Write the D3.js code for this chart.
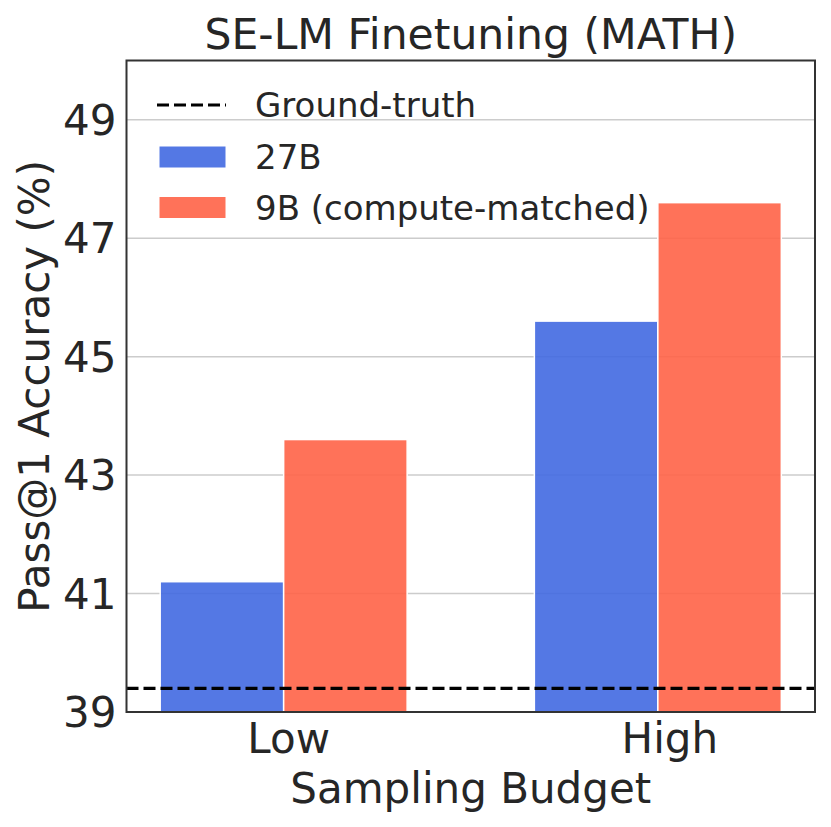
<!DOCTYPE html>
<html>
<head>
<meta charset="utf-8">
<script src="https://cdn.jsdelivr.net/npm/d3@7"></script>
<style>
  body { margin: 0; background: #fff; }
  text { font-family: "DejaVu Sans", sans-serif; fill: #262626; }
</style>
</head>
<body>
<svg id="chart" width="831" height="827"></svg>
<script>
// ---- data ----
const categories = ["Low", "High"];
const seriesNames = ["27B", "9B (compute-matched)"];
const values27B = [41.2, 45.6];
const values9B = [43.6, 47.6];
const groundTruth = 39.4;
const yTicks = [39, 41, 43, 45, 47, 49];
const colors = ["#4169e1", "#ff6347"];

(function () {
const svg = d3.select("#chart");
const pL = 126.5, pR = 815, pT = 60.5, pB = 712;
const labelShift = [5, 12];

const x = d3.scaleLinear().domain([-0.42, 1.42]).range([pL, pR]);
const y = d3.scaleLinear().domain([39, 50]).range([pB, pT]);
const barW = 0.33;

// gridlines
svg.append("g").selectAll("line").data(yTicks).join("line")
  .attr("x1", pL).attr("x2", pR)
  .attr("y1", d => y(d)).attr("y2", d => y(d))
  .attr("stroke", "#cccccc").attr("stroke-width", 1.5);

// bars
const seriesVals = [values27B, values9B];
seriesVals.forEach((vals, si) => {
  const off = si === 0 ? -barW / 2 : barW / 2;
  svg.append("g").selectAll("rect").data(vals).join("rect")
    .attr("x", (d, i) => x(i + off - barW / 2))
    .attr("width", x(barW) - x(0))
    .attr("y", d => y(d))
    .attr("height", d => y(39) - y(d))
    .attr("fill", colors[si]).attr("fill-opacity", 0.9)
    .attr("stroke", "#ffffff").attr("stroke-width", 1.5);
});

// ground truth line
svg.append("line")
  .attr("x1", pL).attr("x2", pR)
  .attr("y1", y(groundTruth)).attr("y2", y(groundTruth))
  .attr("stroke", "#000").attr("stroke-width", 3.2)
  .attr("stroke-dasharray", "12,5");

// frame
svg.append("rect")
  .attr("x", pL).attr("y", pT)
  .attr("width", pR - pL).attr("height", pB - pT)
  .attr("fill", "none").attr("stroke", "#333").attr("stroke-width", 2);

// y tick labels
svg.append("g").selectAll("text").data(yTicks).join("text")
  .attr("x", pL - 10).attr("y", d => y(d))
  .attr("dy", "0.36em").attr("text-anchor", "end")
  .attr("font-size", 42).text(d => d);

// x tick labels
svg.append("g").selectAll("text").data(categories).join("text")
  .attr("x", (d, i) => x(i) + labelShift[i]).attr("y", 753)
  .attr("text-anchor", "middle").attr("font-size", 42).text(d => d);

// axis labels
svg.append("text").attr("x", x(0.5)).attr("y", 803)
  .attr("text-anchor", "middle").attr("font-size", 42).text("Sampling Budget");
svg.append("text")
  .attr("transform", `translate(49,${(pT + pB) / 2}) rotate(-90)`)
  .attr("text-anchor", "middle").attr("font-size", 42).text("Pass@1 Accuracy (%)");

// title
svg.append("text").attr("x", x(0.5)).attr("y", 49)
  .attr("text-anchor", "middle").attr("font-size", 42.5).text("SE-LM Finetuning (MATH)");

// legend
const lg = svg.append("g");
lg.append("line").attr("x1", 157).attr("x2", 226).attr("y1", 105).attr("y2", 105)
  .attr("stroke", "#000").attr("stroke-width", 3.2).attr("stroke-dasharray", "12,5");
lg.append("text").attr("x", 255).attr("y", 117).attr("font-size", 34).text("Ground-truth");
seriesNames.forEach((s, i) => {
  lg.append("rect").attr("x", 159).attr("y", 146 + i * 50.5).attr("width", 67).attr("height", 22)
    .attr("fill", colors[i]).attr("fill-opacity", 0.9)
    .attr("stroke", "#fff").attr("stroke-width", 1);
  lg.append("text").attr("x", 255).attr("y", 168.5 + i * 51).attr("font-size", 34).text(s);
});
})();
</script>
</body>
</html>
